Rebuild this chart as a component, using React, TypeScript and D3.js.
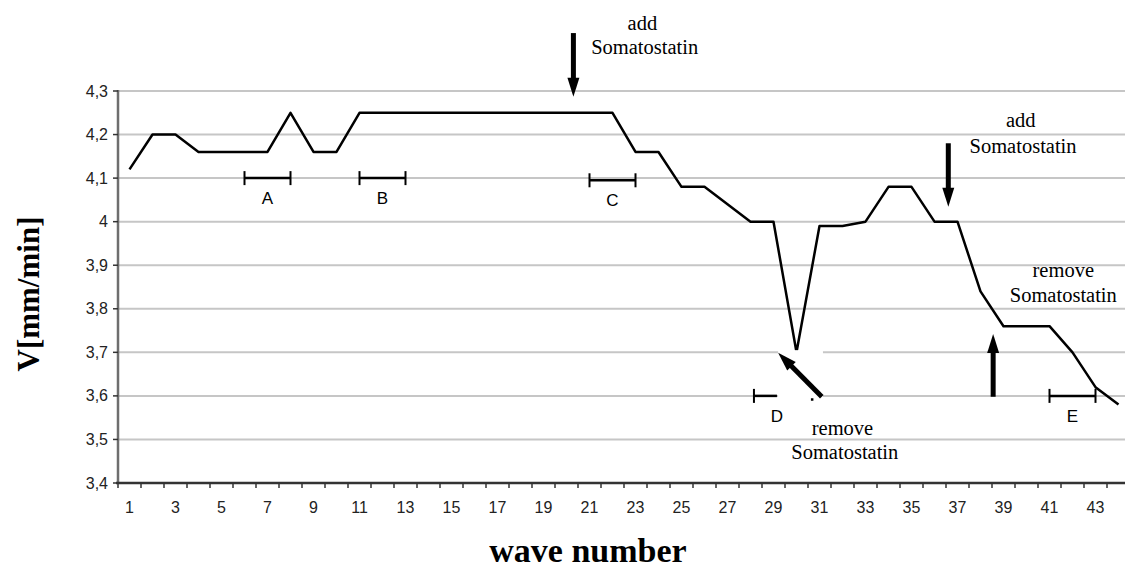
import React from 'react'
import * as d3 from 'd3'

const width = 1125
const height = 573

const plot = {
  left: 118,
  right: 1130,
  top: 91,
  bottom: 483,
}

// wave number 1..44
const waves = d3.range(1, 45)

// V [mm/min] per wave
const velocity = [
  4.12, 4.2, 4.2, 4.16, 4.16, 4.16, 4.16, 4.25, 4.16, 4.16,
  4.25, 4.25, 4.25, 4.25, 4.25, 4.25, 4.25, 4.25, 4.25, 4.25,
  4.25, 4.25, 4.16, 4.16, 4.08, 4.08, 4.04, 4.0, 4.0, 3.7,
  3.99, 3.99, 4.0, 4.08, 4.08, 4.0, 4.0, 3.84, 3.76, 3.76,
  3.76, 3.7, 3.62, 3.58,
]

const yTicks = [3.4, 3.5, 3.6, 3.7, 3.8, 3.9, 4.0, 4.1, 4.2, 4.3]
const xLabels = d3.range(1, 44, 2)

// interval markers A..E (wave from, wave to, level)
const brackets = [
  { label: 'A', from: 6, to: 8, level: 4.1 },
  { label: 'B', from: 11, to: 13, level: 4.1 },
  { label: 'C', from: 21, to: 23, level: 4.095 },
  { label: 'D', from: 28.15, to: 29.15, level: 3.6, noRightEnd: true },
  { label: 'E', from: 41, to: 43, level: 3.6 },
]

// arrows: tail -> tip, in wave / velocity units
const arrows = [
  { x1: 20.3, y1: 4.433, x2: 20.3, y2: 4.287 },
  { x1: 36.6, y1: 4.18, x2: 36.6, y2: 4.034 },
  { x1: 38.55, y1: 3.598, x2: 38.55, y2: 3.742 },
  { x1: 31.1, y1: 3.598, x2: 29.2, y2: 3.699 },
]

const notes = [
  { text: 'add', x: 23.3, y: 4.44 },
  { text: 'Somatostatin', x: 23.4, y: 4.385 },
  { text: 'add', x: 39.75, y: 4.217 },
  { text: 'Somatostatin', x: 39.85, y: 4.158 },
  { text: 'remove', x: 41.6, y: 3.873 },
  { text: 'Somatostatin', x: 41.6, y: 3.816 },
  { text: 'remove', x: 32.0, y: 3.51 },
  { text: 'Somatostatin', x: 32.1, y: 3.455 },
]

const fmt = (v: number) => String(+v.toFixed(1)).replace('.', ',')

function Arrow({ x1, y1, x2, y2 }: { x1: number; y1: number; x2: number; y2: number }) {
  const dx = x2 - x1
  const dy = y2 - y1
  const len = Math.sqrt(dx * dx + dy * dy)
  const ux = dx / len
  const uy = dy / len
  const headLen = 19
  const headW = 6
  const bx = x2 - ux * headLen
  const by = y2 - uy * headLen
  const pts = [
    [x2, y2],
    [bx - uy * headW, by + ux * headW],
    [bx + uy * headW, by - ux * headW],
  ]
  return (
    <g>
      <line x1={x1} y1={y1} x2={bx + ux * 2} y2={by + uy * 2} stroke="black" strokeWidth={5} />
      <polygon points={pts.map((p) => p.join(',')).join(' ')} fill="black" />
    </g>
  )
}

export default function App() {
  const x = d3.scaleLinear().domain([0.5, 44.5]).range([plot.left, plot.right])
  const y = d3.scaleLinear().domain([3.4, 4.3]).range([plot.bottom, plot.top])

  const line = d3
    .line<number>()
    .x((d, i) => x(waves[i]))
    .y((d) => y(d))

  const sans = '"Liberation Sans", Arial, sans-serif'
  const serif = '"Liberation Serif", "Times New Roman", serif'

  return (
    <svg
      width={width}
      height={height}
      style={{ position: 'absolute', left: 0, top: 0, background: 'white' }}
    >
      <rect x={0} y={0} width={width} height={height} fill="white" />

      {/* gridlines */}
      {yTicks.slice(1).map((t) => (
        <line
          key={'g' + t}
          x1={plot.left}
          x2={width}
          y1={y(t)}
          y2={y(t)}
          stroke="#c6c6c6"
          strokeWidth={2}
        />
      ))}

      {/* y axis */}
      <line x1={plot.left} x2={plot.left} y1={plot.top - 1} y2={plot.bottom} stroke="#6e6e6e" strokeWidth={2.5} />
      {yTicks.map((t) => (
        <g key={'yt' + t}>
          <line x1={plot.left - 5} x2={plot.left} y1={y(t)} y2={y(t)} stroke="#333" strokeWidth={1.5} />
          <text
            x={plot.left - 10}
            y={y(t) + 5.5}
            textAnchor="end"
            style={{ fontFamily: sans, fontSize: '16px', fill: '#222' }}
          >
            {fmt(t)}
          </text>
        </g>
      ))}

      {/* x axis */}
      <line x1={plot.left - 2} x2={width} y1={plot.bottom} y2={plot.bottom} stroke="#333" strokeWidth={2.5} />
      {d3.range(0.5, 45, 1).map((b) => (
        <line key={'xt' + b} x1={x(b)} x2={x(b)} y1={plot.bottom} y2={plot.bottom + 5} stroke="#333" strokeWidth={1.5} />
      ))}
      {xLabels.map((w) => (
        <text
          key={'xl' + w}
          x={x(w)}
          y={plot.bottom + 30}
          textAnchor="middle"
          style={{ fontFamily: sans, fontSize: '16px', fill: '#222' }}
        >
          {w}
        </text>
      ))}

      {/* data line */}
      <path d={line(velocity) || ''} fill="none" stroke="black" strokeWidth={2.5} strokeLinejoin="round" />

      {/* white patch behind the remove arrow */}
      <rect x={x(29.2)} y={y(3.705)} width={x(31.15) - x(29.2)} height={y(3.59) - y(3.705)} fill="white" />
      <rect x={x(30.67) - 1} y={y(3.59) - 2} width={2.5} height={2.5} fill="black" />

      {/* interval brackets */}
      {brackets.map((b) => (
        <g key={'br' + b.label}>
          <line x1={x(b.from)} x2={x(b.to)} y1={y(b.level)} y2={y(b.level)} stroke="black" strokeWidth={2.5} />
          <line x1={x(b.from)} x2={x(b.from)} y1={y(b.level) - 7} y2={y(b.level) + 7} stroke="black" strokeWidth={2} />
          {!b.noRightEnd && (
            <line x1={x(b.to)} x2={x(b.to)} y1={y(b.level) - 7} y2={y(b.level) + 7} stroke="black" strokeWidth={2} />
          )}
          <text
            x={b.noRightEnd ? x(b.to) : (x(b.from) + x(b.to)) / 2}
            y={y(b.level) + 26}
            textAnchor="middle"
            style={{ fontFamily: sans, fontSize: '17px', fill: 'black' }}
          >
            {b.label}
          </text>
        </g>
      ))}

      {/* arrows */}
      {arrows.map((a, i) => (
        <Arrow key={'ar' + i} x1={x(a.x1)} y1={y(a.y1)} x2={x(a.x2)} y2={y(a.y2)} />
      ))}

      {/* annotation text */}
      {notes.map((n, i) => (
        <text
          key={'n' + i}
          x={x(n.x)}
          y={y(n.y)}
          textAnchor="middle"
          style={{ fontFamily: serif, fontSize: '20.5px', fill: 'black' }}
        >
          {n.text}
        </text>
      ))}

      {/* axis titles */}
      <text
        transform={`translate(39, 294) rotate(-90)`}
        textAnchor="middle"
        style={{ fontFamily: serif, fontSize: '31px', fontWeight: 'bold', fill: 'black' }}
      >
        V[mm/min]
      </text>
      <text
        x={588}
        y={562}
        textAnchor="middle"
        style={{ fontFamily: serif, fontSize: '34px', fontWeight: 'bold', fill: 'black' }}
      >
        wave number
      </text>
    </svg>
  )
}
